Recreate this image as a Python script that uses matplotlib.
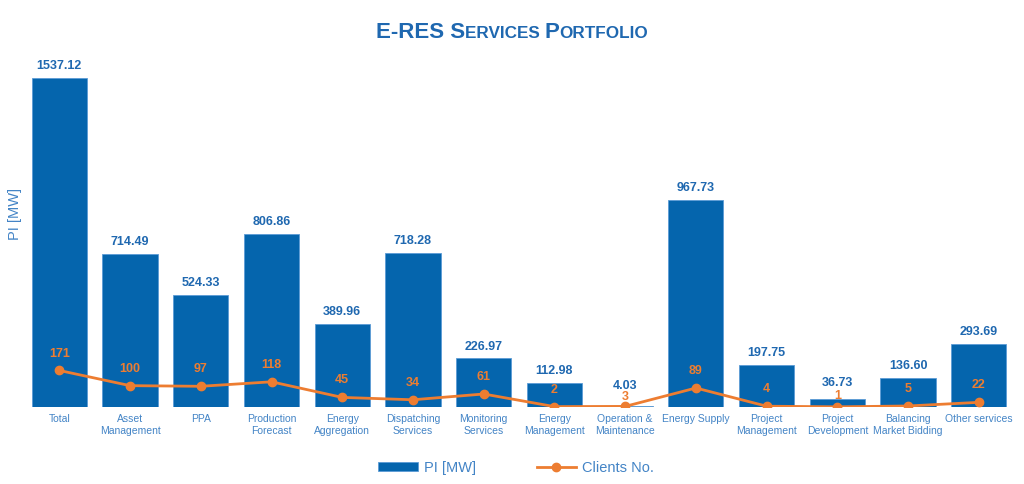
import matplotlib
matplotlib.use("Agg")
import matplotlib.pyplot as plt
import numpy as np

plt.rcParams['font.family'] = ['Liberation Sans', 'DejaVu Sans']

categories = ["Total", "Asset\nManagement", "PPA", "Production\nForecast", "Energy\nAggregation",
              "Dispatching\nServices", "Monitoring\nServices", "Energy\nManagement",
              "Operation &\nMaintenance", "Energy Supply", "Project\nManagement",
              "Project\nDevelopment", "Balancing\nMarket Bidding", "Other services"]
pi_mw = [1537.12, 714.49, 524.33, 806.86, 389.96, 718.28, 226.97, 112.98,
         4.03, 967.73, 197.75, 36.73, 136.60, 293.69]
clients = [171, 100, 97, 118, 45, 34, 61, 2, 3, 89, 4, 1, 5, 22]

bar_col = "#0565ad"
line_col = "#ed7d31"
txt_col = "#1f68b0"
tick_col = "#4384c6"

# label offsets (points) for crowded spots near the baseline
bar_lab_off = {8: 14.4, 11: 11.5}
cli_lab_off = {8: 6.7, 11: 8.0}

fig = plt.figure(figsize=(10.24, 4.84), dpi=100)
ax = fig.add_axes([0.0234, 0.159, 0.967, 0.727])
x = np.arange(len(categories))

bars = ax.bar(x, pi_mw, width=0.78, color=bar_col, edgecolor="#5b9bd5", linewidth=0.6, label="PI [MW]")
line, = ax.plot(x, clients, color=line_col, lw=2, marker="o", ms=6, label="Clients No.")

for i, (xi, v) in enumerate(zip(x, pi_mw)):
    ax.annotate(f"{v:.2f}", (xi, v), xytext=(0, bar_lab_off.get(i, 8.6)), textcoords="offset points",
                ha="center", va="center", fontsize=9, fontweight="bold", color=txt_col)
for i, (xi, c) in enumerate(zip(x, clients)):
    ax.annotate(str(c), (xi, c), xytext=(0, cli_lab_off.get(i, 12.2)), textcoords="offset points",
                ha="center", va="center", fontsize=9, fontweight="bold", color=line_col)

ax.set_xlim(-0.5, len(categories) - 0.5)
ax.set_ylim(0, 1537.12 * 1.07)
ax.set_xticks(x)
ax.set_xticklabels(categories, fontsize=7.5, color=tick_col, linespacing=1.25)
ax.tick_params(axis="x", length=0, pad=5)
ax.set_yticks([])
for s in ax.spines.values():
    s.set_visible(False)
ax.set_ylabel("PI [MW]", fontsize=10.5, color=tick_col)
ax.yaxis.set_label_coords(-0.002, 0.55)

ax.legend([bars, line], ["PI [MW]", "Clients No."], loc="upper center", bbox_to_anchor=(0.497, -0.115),
          ncol=2, frameon=False, fontsize=10.5, labelcolor=tick_col, handlelength=2.7,
          handleheight=0.5, handletextpad=0.4, columnspacing=4.2)

# small caps title
pieces = [("E-RES S", 16), ("ERVICES ", 12.3), ("P", 16), ("ORTFOLIO", 12.3)]
fig.canvas.draw()
r = fig.canvas.get_renderer()
widths = []
texts = []
for s, fs in pieces:
    t = fig.text(0, 0.922, s, fontsize=fs, fontweight="bold", color=txt_col, va="baseline")
    texts.append(t)
    widths.append(t.get_window_extent(r).width / fig.bbox.width)
xpos = 0.5 - sum(widths) / 2
for t, w in zip(texts, widths):
    t.set_x(xpos)
    xpos += w

fig.savefig("out.png", dpi=100)
